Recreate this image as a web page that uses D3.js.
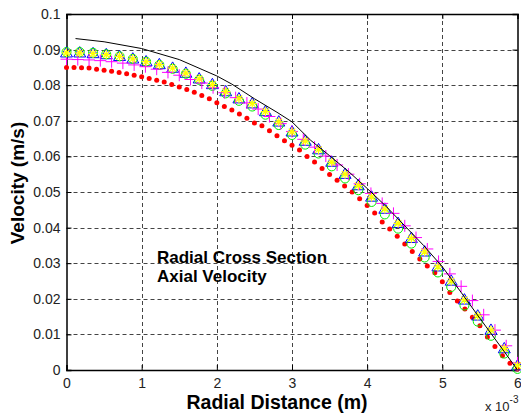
<!DOCTYPE html>
<html>
<head>
<meta charset="utf-8">
<script src="https://d3js.org/d3.v7.min.js"></script>
<style>
  body { margin: 0; background: #fff; }
  text { font-family: "Liberation Sans", Arial, sans-serif; }
</style>
</head>
<body>
<svg id="chart"></svg>
<script>
// radial distance in units of 1e-3 m, velocity in m/s

// black solid line
var lineR = [0.12, 0.5, 1.0, 1.5, 2.0, 2.2, 2.5, 2.8, 3.0, 3.25, 3.5, 3.75, 4.0, 4.25, 4.5, 4.75, 5.0, 5.25, 5.5, 5.75, 6.0];
var lineV = [0.0931, 0.0922, 0.0903, 0.0872, 0.0826, 0.0803, 0.0762, 0.0724, 0.0697, 0.0645, 0.0602, 0.0558, 0.0510, 0.0460, 0.0405, 0.0350, 0.0290, 0.0218, 0.0145, 0.0073, 0.0];

// red dots
var dotR = [0, 0.1, 0.2, 0.3, 0.4, 0.5, 0.6, 0.7, 0.8, 0.9, 1.0, 1.1, 1.2, 1.3, 1.4, 1.5, 1.6, 1.7, 1.8, 1.9,
            2.0, 2.1, 2.2, 2.3, 2.4, 2.5, 2.6, 2.7, 2.8, 2.9, 3.0, 3.1, 3.2, 3.3, 3.4, 3.5, 3.6, 3.7, 3.8, 3.9,
            4.0, 4.1, 4.2, 4.3, 4.4, 4.5, 4.6, 4.7, 4.8, 4.9, 5.0, 5.1, 5.2, 5.3, 5.4, 5.5, 5.6, 5.7, 5.8, 5.9, 6.0];
var dotV = [0.0850, 0.0850, 0.0849, 0.0848, 0.0845, 0.0842, 0.0839, 0.0836, 0.0832, 0.0828,
            0.0824, 0.0819, 0.0814, 0.0809, 0.0802, 0.0795, 0.0788, 0.0780, 0.0771, 0.0762,
            0.0751, 0.0740, 0.0730, 0.0719, 0.0707, 0.0694, 0.0686, 0.0672, 0.0658, 0.0644,
            0.0631, 0.0618, 0.0600, 0.0584, 0.0566, 0.0549, 0.0533, 0.0517, 0.0500, 0.0481,
            0.0462, 0.0441, 0.0416, 0.0396, 0.0376, 0.0354, 0.0333, 0.0312, 0.0292, 0.0273,
            0.0248, 0.0218, 0.0194, 0.0171, 0.0148, 0.0124, 0.0093, 0.0066, 0.0040, 0.0019, 0.0003];

// magenta plus
var plusR = [0, 0.15, 0.3, 0.45, 0.6, 0.75, 0.9, 1.05, 1.2, 1.35, 1.5, 1.65, 1.8, 1.95, 2.1, 2.25, 2.4, 2.55, 2.7, 2.85,
             3.0, 3.15, 3.3, 3.45, 3.6, 3.75, 3.9, 4.05, 4.2, 4.35, 4.5, 4.65, 4.8, 4.95, 5.1, 5.25, 5.4, 5.55, 5.7, 5.85, 6.0];
var plusV = [0.0873, 0.0872, 0.0871, 0.0869, 0.0866, 0.0862, 0.0857, 0.0852, 0.0845, 0.0836,
             0.0828, 0.0816, 0.0806, 0.0793, 0.0779, 0.0765, 0.0750, 0.0733, 0.0712, 0.0692,
             0.0670, 0.0648, 0.0626, 0.0601, 0.0576, 0.0550, 0.0523, 0.0496, 0.0468, 0.0440,
             0.0405, 0.0372, 0.0340, 0.0305, 0.0270, 0.0235, 0.0195, 0.0155, 0.0112, 0.0068, 0.0020];

// blue triangles, green circles, yellow stars share one grid
var gridR = [0, 0.176, 0.353, 0.529, 0.706, 0.882, 1.059, 1.235, 1.412, 1.588, 1.765, 1.941,
             2.118, 2.294, 2.471, 2.647, 2.824, 3.0, 3.176, 3.353, 3.529, 3.706, 3.882,
             4.059, 4.235, 4.412, 4.588, 4.765, 4.941, 5.118, 5.294, 5.471, 5.647, 5.824, 6.0];
var triV = [0.0889, 0.0889, 0.0887, 0.0884, 0.0879, 0.0872, 0.0864, 0.0856, 0.0846, 0.0832, 0.0816, 0.0800,
            0.0780, 0.0760, 0.0746, 0.0724, 0.0695, 0.0667, 0.0641, 0.0617, 0.0582, 0.0548, 0.0516,
            0.0484, 0.0450, 0.0410, 0.0368, 0.0330, 0.0288, 0.0248, 0.0195, 0.0150, 0.0110, 0.0058, 0.0010];
var circV = [0.0893, 0.0893, 0.0891, 0.0887, 0.0881, 0.0874, 0.0866, 0.0857, 0.0846, 0.0832, 0.0815, 0.0798,
             0.0777, 0.0756, 0.0740, 0.0717, 0.0688, 0.0660, 0.0633, 0.0608, 0.0572, 0.0538, 0.0505,
             0.0472, 0.0437, 0.0397, 0.0355, 0.0316, 0.0274, 0.0233, 0.0181, 0.0136, 0.0096, 0.0046, 0.0003];
var starV = [0.0891, 0.0891, 0.0889, 0.0886, 0.0881, 0.0874, 0.0866, 0.0858, 0.0848, 0.0834, 0.0818, 0.0802,
             0.0782, 0.0762, 0.0748, 0.0726, 0.0697, 0.0669, 0.0643, 0.0619, 0.0584, 0.0550, 0.0518,
             0.0486, 0.0452, 0.0412, 0.0370, 0.0332, 0.0290, 0.0250, 0.0197, 0.0152, 0.0112, 0.0060, 0.0012];

var xTicks = [0, 1, 2, 3, 4, 5, 6];
var yTicks = [0, 0.01, 0.02, 0.03, 0.04, 0.05, 0.06, 0.07, 0.08, 0.09, 0.1];
var yTickLabels = ["0", "0.01", "0.02", "0.03", "0.04", "0.05", "0.06", "0.07", "0.08", "0.09", "0.1"];

var width = 521, height = 418;
var pLeft = 66.5, pRight = 517.5, pTop = 14, pBottom = 370;

var x = d3.scaleLinear().domain([0, 6]).range([pLeft, pRight]);
var y = d3.scaleLinear().domain([0, 0.1]).range([pBottom, pTop]);

var svg = d3.select("#chart").attr("width", width).attr("height", height);

// grid
var grid = svg.append("g");
grid.selectAll(".gx").data(xTicks.slice(1, -1)).join("line")
    .attr("x1", d => Math.round(x(d)) + 0.5).attr("x2", d => Math.round(x(d)) + 0.5)
    .attr("y1", pTop).attr("y2", pBottom)
    .attr("stroke", "#444").attr("stroke-dasharray", "4,3");
grid.selectAll(".gy").data(yTicks.slice(1, -1)).join("line")
    .attr("x1", pLeft).attr("x2", pRight)
    .attr("y1", d => Math.round(y(d)) + 0.5).attr("y2", d => Math.round(y(d)) + 0.5)
    .attr("stroke", "#444").attr("stroke-dasharray", "4,3");

// axes
svg.append("g").attr("transform", "translate(0," + pBottom + ")")
    .call(d3.axisBottom(x).tickValues(xTicks).tickSize(-5).tickPadding(8).tickFormat(d3.format("d")));
svg.append("g").attr("transform", "translate(" + pLeft + ",0)")
    .call(d3.axisLeft(y).tickValues(yTicks).tickSize(-5).tickPadding(6).tickFormat((d, i) => yTickLabels[i]));
svg.append("g").attr("transform", "translate(0," + pTop + ")")
    .call(d3.axisTop(x).tickValues(xTicks).tickSize(-5).tickFormat(""));
svg.append("g").attr("transform", "translate(" + pRight + ",0)")
    .call(d3.axisRight(y).tickValues(yTicks).tickSize(-5).tickFormat(""));

svg.selectAll(".domain").attr("stroke", "#000").attr("stroke-width", 1.5);
svg.selectAll(".tick line").attr("stroke", "#000");
svg.selectAll(".tick text").attr("font-size", 14).attr("fill", "#222")
    .attr("font-family", "'Liberation Sans', Arial, sans-serif");

// red dots
svg.append("g").selectAll("circle").data(dotR).join("circle")
    .attr("cx", d => x(d)).attr("cy", (d, i) => y(dotV[i]))
    .attr("r", 2.5).attr("fill", "#ff0000");

// blue triangles
svg.append("g").selectAll("path").data(gridR).join("path")
    .attr("transform", (d, i) => "translate(" + x(d) + "," + y(triV[i]) + ")")
    .attr("d", d3.symbol(d3.symbolTriangle, 62))
    .attr("fill", "none").attr("stroke", "#0000ff");

// green circles
svg.append("g").selectAll("circle").data(gridR).join("circle")
    .attr("cx", d => x(d)).attr("cy", (d, i) => y(circV[i]))
    .attr("r", 4.5).attr("fill", "none").attr("stroke", "#00ee00");

// magenta plus
svg.append("g").selectAll("path").data(plusR).join("path")
    .attr("transform", (d, i) => "translate(" + x(d) + "," + y(plusV[i]) + ")")
    .attr("d", "M-6,0H6M0,-6V6")
    .attr("fill", "none").attr("stroke", "#ff00ff");

// yellow stars
svg.append("g").selectAll("path").data(gridR).join("path")
    .attr("transform", (d, i) => "translate(" + x(d) + "," + y(starV[i]) + ")")
    .attr("d", "M-4.5,0H4.5M0,-4.5V4.5M-3.2,-3.2L3.2,3.2M-3.2,3.2L3.2,-3.2")
    .attr("fill", "none").attr("stroke", "#ffff00").attr("stroke-width", 1.2);

// black line
svg.append("path")
    .datum(lineR)
    .attr("d", d3.line().x(d => x(d)).y((d, i) => y(lineV[i])))
    .attr("fill", "none").attr("stroke", "#000").attr("stroke-width", 1);

// labels
svg.append("text").attr("x", 277).attr("y", 409).attr("text-anchor", "middle")
    .attr("font-size", 19.5).attr("font-weight", "bold").text("Radial Distance (m)");
svg.append("text").attr("transform", "translate(24,183) rotate(-90)").attr("text-anchor", "middle")
    .attr("font-size", 19).attr("font-weight", "bold").text("Velocity (m/s)");

svg.append("text").attr("x", 157).attr("y", 263)
    .attr("font-size", 17).attr("font-weight", "bold").text("Radial Cross Section");
svg.append("text").attr("x", 157).attr("y", 282)
    .attr("font-size", 17).attr("font-weight", "bold").text("Axial Velocity");

var mult = svg.append("text").attr("x", 485).attr("y", 411).attr("font-size", 13).attr("fill", "#222");
mult.append("tspan").text("x 10");
mult.append("tspan").attr("dy", -8).attr("font-size", 10).text("-3");
</script>
</body>
</html>
